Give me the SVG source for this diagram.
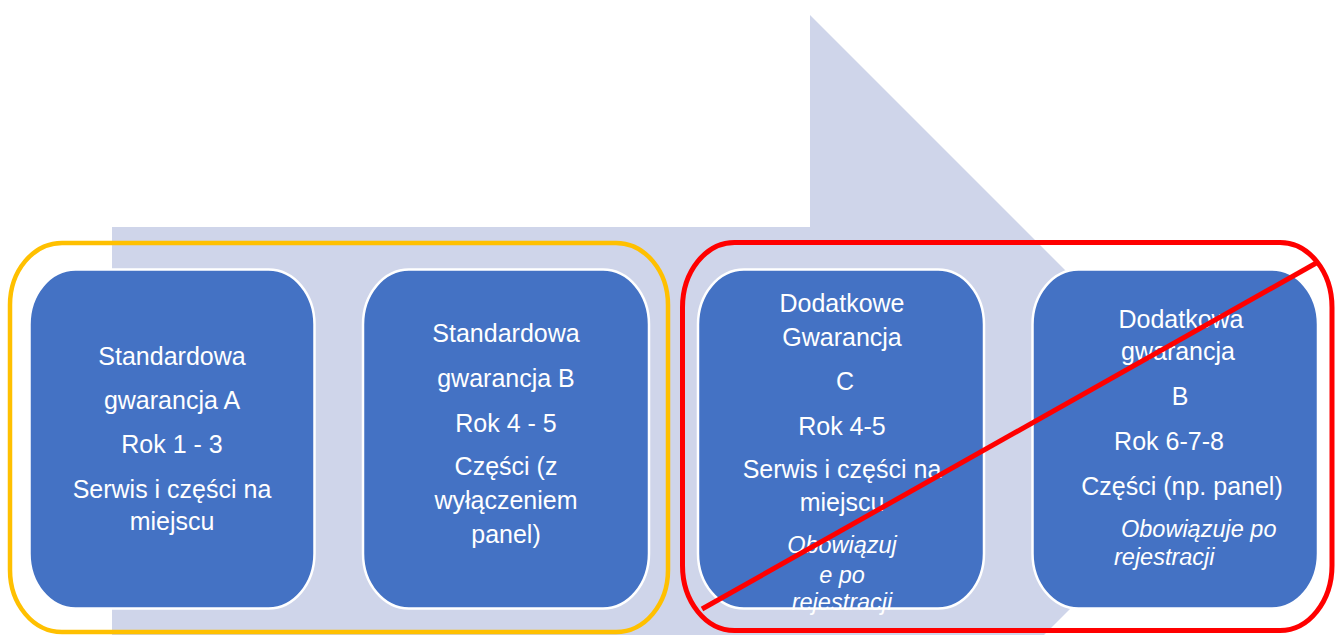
<svg xmlns="http://www.w3.org/2000/svg" width="1335" height="635" viewBox="0 0 1335 635">
<style>
.box{fill:#4472C4;stroke:#FFFFFF;stroke-width:2.5}
.t{font-family:"Liberation Sans",Arial,sans-serif;font-size:25px;fill:#FFFFFF;text-anchor:middle}
.i{font-family:"Liberation Sans",Arial,sans-serif;font-size:23.5px;font-style:italic;fill:#FFFFFF;text-anchor:middle}
</style>
<rect width="1335" height="635" fill="#FFFFFF"/>
<g id="arrow">
<polygon points="112,227 810,227 810,15 1237,442 810,869 810,657 112,657" fill="#CFD5EA"/>
</g>
<g id="group-standard">
<rect x="10" y="243" width="658" height="389" rx="52" ry="62" fill="none" stroke="#FFC000" stroke-width="4.5"/>
</g>
<g id="node-a">
<rect class="box" x="29.5" y="269.5" width="285" height="339" rx="46" ry="55"/>
<text class="t" x="172" y="365">Standardowa</text>
<text class="t" x="172" y="409">gwarancja A</text>
<text class="t" x="172" y="453">Rok 1 - 3</text>
<text class="t" x="172" y="498">Serwis i części na</text>
<text class="t" x="172" y="530">miejscu</text>
</g>
<g id="node-b">
<rect class="box" x="363" y="269.5" width="286" height="339" rx="46" ry="55"/>
<text class="t" x="506" y="342">Standardowa</text>
<text class="t" x="506" y="387">gwarancja B</text>
<text class="t" x="506" y="432">Rok 4 - 5</text>
<text class="t" x="506" y="475">Części (z</text>
<text class="t" x="506" y="509">wyłączeniem</text>
<text class="t" x="506" y="543">panel)</text>
</g>
<g id="node-c">
<rect class="box" x="698" y="269.5" width="286" height="339" rx="46" ry="55"/>
<text class="t" x="842" y="312">Dodatkowe</text>
<text class="t" x="842" y="346">Gwarancja</text>
<text class="t" x="845" y="390">C</text>
<text class="t" x="842" y="435">Rok 4-5</text>
<text class="t" x="842" y="478">Serwis i części na</text>
<text class="t" x="842" y="511">miejscu</text>
<text class="i" x="842" y="553">Obowiązuj</text>
<text class="i" x="842" y="583">e po</text>
<text class="i" x="842" y="610">rejestracji</text>
</g>
<g id="node-d">
<rect class="box" x="1032.5" y="269.5" width="285.5" height="339" rx="46" ry="55"/>
<text class="t" x="1181" y="328">Dodatkowa</text>
<text class="t" x="1178" y="360">gwarancja</text>
<text class="t" x="1180" y="405">B</text>
<text class="t" x="1169" y="450">Rok 6-7-8</text>
<text class="t" x="1182" y="495">Części (np. panel)</text>
<text class="i" x="1121" y="537" style="text-anchor:start">Obowiązuje po</text>
<text class="i" x="1114" y="565" style="text-anchor:start">rejestracji</text>
</g>
<g id="group-additional">
<rect x="682.5" y="242.5" width="649.5" height="388" rx="52" ry="65" fill="none" stroke="#FF0000" stroke-width="5"/>
</g>
<g id="connectors">
<line x1="702" y1="609" x2="1318" y2="262" stroke="#FF0000" stroke-width="5"/>
</g>
</svg>
